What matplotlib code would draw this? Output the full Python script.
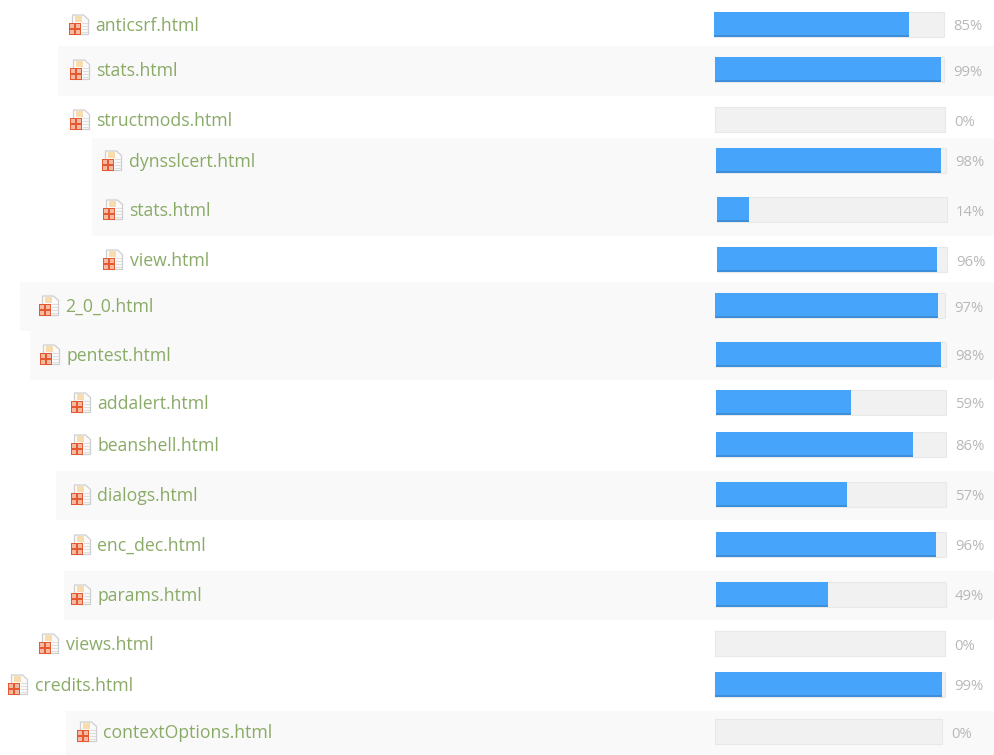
import matplotlib
matplotlib.use("Agg")
import matplotlib.pyplot as plt
from matplotlib.patches import Rectangle, Polygon

# file names and coverage
names = ["anticsrf.html", "stats.html", "structmods.html", "dynsslcert.html", "stats.html",
         "view.html", "2_0_0.html", "pentest.html", "addalert.html", "beanshell.html",
         "dialogs.html", "enc_dec.html", "params.html", "views.html", "credits.html",
         "contextOptions.html"]
percent = [85, 99, 0, 98, 14, 96, 97, 98, 59, 86, 57, 96, 49, 0, 99, 0]

# layout, in pixels
row_y = [25, 70, 120, 161, 210, 260, 306, 355, 403, 445, 495, 545, 595, 644, 685, 732]
text_x = [95.5, 96.5, 96.5, 128.5, 129.5, 129.5, 65.5, 66.5, 97.5, 97.5, 97.5, 97.5, 97.5, 65.5, 34.5, 103.5]
track_x = [714, 715, 715, 716, 717, 717, 715, 716, 716, 716, 716, 716, 716, 715, 715, 715]
track_w = [229.5, 228.5, 229.5, 229.5, 229.5, 229.5, 229.5, 229.5, 229.5, 229.5, 229.5, 229.5, 229.5, 229.5, 229.5, 226.5]
bands = [(58, 46, 96), (92, 138, 236), (20, 282, 331), (30, 331, 380),
         (56, 471, 520), (64, 571, 620), (66, 711, 755)]

BAR_H = 24.5

fig = plt.figure(figsize=(9.94, 7.55), dpi=100)
ax = fig.add_axes([0, 0, 1, 1])
ax.set_xlim(0, 994)
ax.set_ylim(755, 0)
ax.axis("off")


def draw_icon(x, y):
    # x,y is the left edge / vertical centre of the file icon
    ax.add_patch(Polygon([(x + 4, y - 10.5), (x + 15, y - 10.5), (x + 20, y - 6), (x + 20, y + 9), (x + 4, y + 9)],
                         fc="#fbfbfb", ec="#cfcfcf", lw=0.9, zorder=3))
    ax.add_patch(Rectangle((x + 6, y - 9.5), 7, 6, fc="#f9dcae", ec="none", zorder=4))
    for dy in (-3, 0, 3, 6):
        ax.plot([x + 13.5, x + 18], [y + dy, y + dy], color="#dedede", lw=0.8, zorder=4)
    ax.add_patch(Rectangle((x, y - 3), 12.5, 12.5, fc="#e4592f", ec="none", zorder=5))
    # pale blocks for the small HT / ML letters on the red square
    for dx, dy in [(1.5, -1.5), (7, -1.5), (1.5, 4), (7, 4)]:
        ax.add_patch(Rectangle((x + dx, y + dy), 4, 4, fc="#f6b9a2", ec="none", zorder=6))


for left, top, bottom in bands:
    ax.add_patch(Rectangle((left, top), 994 - left, bottom - top, fc="#f9f9f9", ec="none", zorder=0))

bar_y = [y - 0.75 for y in row_y]

# tracks, then fills scaled from the percentages
ax.barh(bar_y, track_w, left=track_x, height=BAR_H, color="#f1f1f1", edgecolor="#e8e8e8", linewidth=0.8, zorder=1)
fill_w = [w * p / 100 for w, p in zip(track_w, percent)]
ax.barh(bar_y, fill_w, left=track_x, height=BAR_H, color="#46a4fa", edgecolor="none", zorder=2)

# darker lower edge of the fills
edge_y = [y + BAR_H / 2 - 0.5 for y in bar_y]
ax.barh(edge_y, fill_w, left=track_x, height=1.2, color="#3d8fd9", edgecolor="none", zorder=2.5)

for name, y, tx, tr_x, tr_w, p in zip(names, row_y, text_x, track_x, track_w, percent):
    draw_icon(tx - 27, y + 0.5)
    ax.text(tx, y + 1, name, family="Open Sans", fontsize=12.7, color="#8aab67", va="center", ha="left", zorder=7)
    ax.text(tr_x + tr_w + 9.5, y + 2, f"{p}%", family="Open Sans", fontsize=10.7, color="#b8b8b8",
            va="center", ha="left", zorder=7)

fig.savefig("out.png", dpi=100)
